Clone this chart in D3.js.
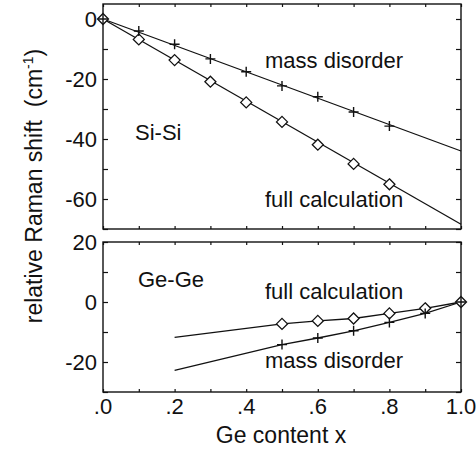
<!DOCTYPE html>
<html><head><meta charset="utf-8">
<script src="https://cdn.jsdelivr.net/npm/d3@7"></script>
<style>body{margin:0;background:#fff}svg{display:block}text{font-family:"Liberation Sans",Arial,sans-serif;fill:#111;white-space:pre}</style>
</head><body><svg id="c" width="476" height="450"></svg>
<script>
// Top panel (Si-Si)
const siX = [0, 0.1, 0.2, 0.3, 0.4, 0.5, 0.6, 0.7, 0.8];
const siMass = [0, -4, -8.4, -13.3, -17.6, -22.3, -25.9, -31, -35.7];
const siFull = [0, -6.8, -13.7, -20.9, -27.8, -34.3, -41.9, -48.3, -55.1];
const siMassLineX = [0, 1.0], siMassLineY = [0, -44];
const siFullLineX = [0, 1.0], siFullLineY = [0, -68.4];
// Bottom panel (Ge-Ge)
const geX = [0.5, 0.6, 0.7, 0.8, 0.9, 1.0];
const geFull = [-7.3, -6.3, -5.5, -3.8, -2.1, 0];
const geMass = [-14.2, -12, -9.6, -6.8, -3.8, 0];
const geFullLineX = [0.2, 0.5, 0.6, 0.7, 0.8, 0.9, 1.0], geFullLineY = [-11.8, -7.3, -6.3, -5.5, -3.8, -2.1, 0];
const geMassLineX = [0.2, 0.5, 0.6, 0.7, 0.8, 0.9, 1.0], geMassLineY = [-22.8, -14.2, -12, -9.6, -6.8, -3.8, 0];
const xTicks = [0, 0.2, 0.4, 0.6, 0.8, 1.0];
const xTickLabels = [".0", ".2", ".4", ".6", ".8", "1.0"];
const topTicks = [0, -20, -40, -60];
const botTicks = [20, 0, -20];

const svg = d3.select("#c");
const L = 103, R = 461;
const x = d3.scaleLinear().domain([0, 1]).range([L, R]);
const yT = d3.scaleLinear().domain([-70, 5]).range([229, 4]);
const yB = d3.scaleLinear().domain([-30, 20]).range([392, 242]);
const ink = "#111";

function panel(y, ticks) {
  const g = svg.append("g");
  const [y0, y1] = y.range();
  const minor = d3.range(0, 1.0001, 0.1);
  g.append("g").attr("transform", `translate(0,${y0})`)
    .call(d3.axisBottom(x).tickValues(minor).tickSize(-3).tickFormat(""))
    .call(a => a.select(".domain").remove());
  g.append("g").attr("transform", `translate(0,${y1})`)
    .call(d3.axisTop(x).tickValues(minor).tickSize(-3).tickFormat(""))
    .call(a => a.select(".domain").remove());
  const dom = y.domain();
  const yt = d3.range(Math.ceil(dom[0] / 10) * 10, dom[1] + 0.001, 10);
  g.append("g").attr("transform", `translate(${L},0)`)
    .call(d3.axisLeft(y).tickValues(yt).tickSize(-5).tickFormat(""))
    .call(a => a.select(".domain").remove());
  g.append("g").attr("transform", `translate(${R},0)`)
    .call(d3.axisRight(y).tickValues(yt).tickSize(-5).tickFormat(""))
    .call(a => a.select(".domain").remove());
  g.selectAll("line").attr("stroke", ink).attr("stroke-width", 1.2);
  g.append("rect").attr("x", L).attr("y", y1).attr("width", R - L).attr("height", y0 - y1)
    .attr("fill", "none").attr("stroke", ink).attr("stroke-width", 1.4);
  g.append("g").selectAll("text").data(ticks).join("text")
    .attr("x", 97).attr("y", d => y(d)).attr("dy", "0.36em")
    .attr("text-anchor", "end").attr("font-size", 22).text(d => d);
}
panel(yT, topTicks);
panel(yB, botTicks);

const line = (y) => d3.line().x(d => x(d[0])).y(d => y(d[1]));
function drawLine(xs, ys, y) {
  svg.append("path").attr("d", line(y)(xs.map((v, i) => [v, ys[i]])))
    .attr("fill", "none").attr("stroke", ink).attr("stroke-width", 1.3);
}
drawLine(siMassLineX, siMassLineY, yT);
drawLine(siFullLineX, siFullLineY, yT);
drawLine(geFullLineX, geFullLineY, yB);
drawLine(geMassLineX, geMassLineY, yB);

function diamonds(xs, ys, y) {
  svg.append("g").selectAll("path").data(xs).join("path")
    .attr("d", (d, i) => { const cx = x(d), cy = y(ys[i]), s = 5.5; return `M${cx},${cy - s}L${cx + s},${cy}L${cx},${cy + s}L${cx - s},${cy}Z`; })
    .attr("fill", "#fff").attr("stroke", ink).attr("stroke-width", 1.3);
}
function pluses(xs, ys, y) {
  svg.append("g").selectAll("path").data(xs).join("path")
    .attr("d", (d, i) => { const cx = x(d), cy = y(ys[i]), s = 5; return `M${cx - s},${cy}H${cx + s}M${cx},${cy - s}V${cy + s}`; })
    .attr("fill", "none").attr("stroke", ink).attr("stroke-width", 1.4);
}
diamonds(siX, siFull, yT);
pluses(siX, siMass, yT);
diamonds(geX, geFull, yB);
pluses(geX, geMass, yB);

svg.append("g").selectAll("text").data(xTicks).join("text")
  .attr("x", d => x(d)).attr("y", 414).attr("text-anchor", "middle")
  .attr("font-size", 22).text((d, i) => xTickLabels[i]);
svg.append("text").attr("x", 281).attr("y", 443).attr("text-anchor", "middle")
  .attr("font-size", 23).text("Ge content x");
const yl = svg.append("text").attr("transform", "translate(42,186) rotate(-90)")
  .attr("text-anchor", "middle").attr("font-size", 23);
yl.append("tspan").text("relative Raman shift  (cm");
yl.append("tspan").attr("font-size", 14).attr("dy", -9).text("-1");
yl.append("tspan").attr("dy", 9).text(")");

const ann = [["mass disorder", 265, 68], ["Si-Si", 135, 140], ["full calculation", 265, 207],
  ["Ge-Ge", 138, 287], ["full calculation", 265, 299], ["mass disorder", 265, 368]];
svg.append("g").selectAll("text").data(ann).join("text")
  .attr("x", d => d[1]).attr("y", d => d[2]).attr("font-size", 22).text(d => d[0]);
</script></body></html>
